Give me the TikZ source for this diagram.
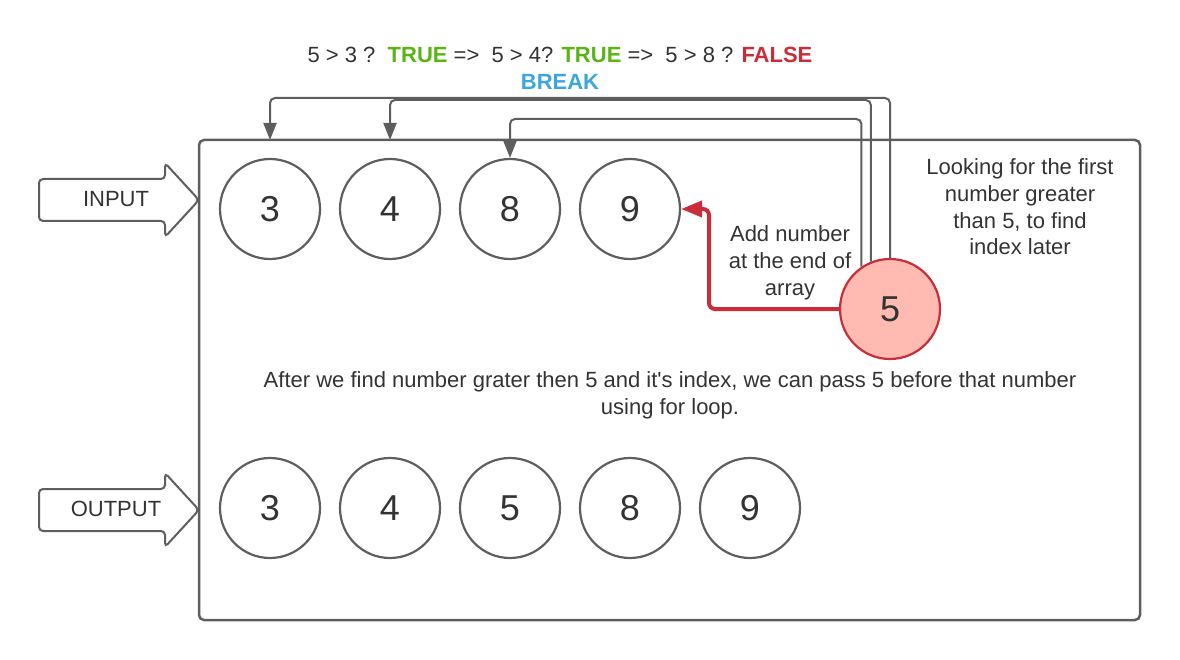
\documentclass[tikz,border=0pt]{standalone}
\usepackage{fontspec}
\setmainfont{Liberation Sans}
\usetikzlibrary{arrows.meta}
\definecolor{gcol}{HTML}{5E5E5E}
\definecolor{tcol}{HTML}{333333}
\definecolor{rcol}{HTML}{C92D39}
\definecolor{pcol}{HTML}{FFBBB1}
\definecolor{okcol}{HTML}{5AB414}
\definecolor{bcol}{HTML}{3AA6DD}
\tikzset{every picture/.style={x=1pt,y=-1pt}}
\tikzset{num/.style={circle,draw=gcol,line width=2.2pt,minimum size=100pt,inner sep=0pt,text=tcol,font=\fontsize{36}{36}\selectfont}}
\tikzset{keynum/.style={num,draw=rcol,fill=pcol}}
\tikzset{link/.style={gcol,line width=2pt,rounded corners=5pt,-{Triangle[length=17pt,width=13pt]}}}
\tikzset{addlink/.style={rcol,line width=4pt,rounded corners=6pt,-{Triangle[length=21pt,width=16pt]}}}
\tikzset{note/.style={text=tcol,align=center,font=\fontsize{22}{26.7}\selectfont}}
\tikzset{inout/.style={draw=gcol,line width=2pt,rounded corners=4pt,fill=white}}

\begin{document}
\begin{tikzpicture}
\useasboundingbox (0,0) rectangle (1180,660);

% input / output arrows
\draw [inout] (39,179) -- (165,179) -- (165,163) -- (199,200) -- (165,237) -- (165,221) -- (39,221) -- cycle;
\draw [inout] (39,489) -- (165,489) -- (165,473) -- (199,510) -- (165,547) -- (165,531) -- (39,531) -- cycle;
\node [note] (inl) at (116,199) {INPUT};
\node [note] (outl) at (116,509) {OUTPUT};

\node [draw=gcol,line width=2.5pt,rounded corners=5pt,minimum width=941pt,minimum height=480pt,inner sep=0pt,outer sep=0pt] (frame) at (669.5,380) {};

\node [num] (i3) at (270,209) {3};
\node [num] (i4) at (390,209) {4};
\node [num] (i8) at (510,209) {8};
\node [num] (i9) at (630,209) {9};

\node [num] (o3) at (270,508) {3};
\node [num] (o4) at (390,508) {4};
\node [num] (o5) at (510,508) {5};
\node [num] (o8) at (630,508) {8};
\node [num] (o9) at (750,508) {9};

\node [keynum] (k5) at (890,309) {5};

\coordinate (hiA) at (0,98);
\coordinate (hiB) at (0,100);
\coordinate (hiC) at (0,119);
\coordinate (rx) at (709,0);

\draw [link] (k5.north) |- (i3 |- hiA) -- (i3 |- frame.north);
\draw [link] (k5.112) |- (i4 |- hiB) -- (i4 |- frame.north);
\draw [link] (k5.124) |- (i8 |- hiC) -- (i8.north);

\draw [addlink] (k5.west) -| (rx |- i9) -- (i9.east);

\node [note] (addn) at (790,263) {Add number\\at the end of\\array};
\node [note] (lookn) at (1020,207) {Looking for the first\\number greater\\than 5, to find\\index later};
\node [note] (aftn) at (670,395) {After we find number grater then 5 and it\textquotesingle s index, we can pass 5 before that number\\using for loop.};

\node [note] (cmp) at (560,55) {5 > 3 ?\ \ \textcolor{okcol}{\textbf{TRUE}} =>\ \ 5 > 4? \textcolor{okcol}{\textbf{TRUE}} =>\ \ 5 > 8 ? \textcolor{rcol}{\textbf{FALSE}}};
\node [note,text=bcol,font=\fontsize{22}{22}\selectfont\bfseries] (brk) at (560,82) {BREAK};
\end{tikzpicture}
\end{document}
